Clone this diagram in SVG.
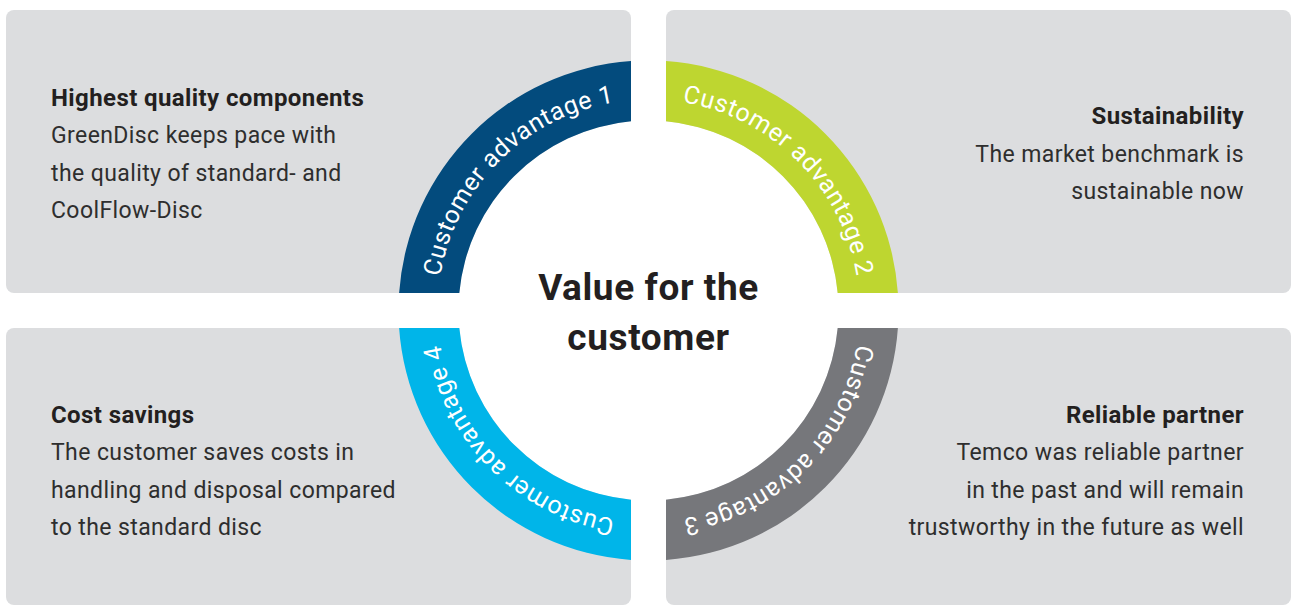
<svg xmlns="http://www.w3.org/2000/svg" width="1292" height="606" viewBox="0 0 1292 606">
<style>
.panel{fill:#dcdddf}
.h{font-family:Roboto,"Open Sans",sans-serif;font-weight:bold;font-size:24px;letter-spacing:0.4px;fill:#231f20}
.b{font-family:Roboto,"Open Sans",sans-serif;font-size:23px;letter-spacing:0.4px;fill:#2e2e2e}
.r{text-anchor:end}
.arc{font-family:Roboto,"Open Sans",sans-serif;font-size:25px;letter-spacing:0.6px;fill:#ffffff;text-anchor:middle}
.center{font-family:Roboto,"Open Sans",sans-serif;font-weight:bold;font-size:37px;letter-spacing:0.6px;fill:#231f20;text-anchor:middle}
</style>
<defs>
<path id="p1" d="M437.5,310.5 A211,211 0 0 1 648.5,99.5"/>
<path id="p2" d="M648.5,99.5 A211,211 0 0 1 859.5,310.5"/>
<path id="p3" d="M859.5,310.5 A211,211 0 0 1 648.5,521.5"/>
<path id="p4" d="M648.5,521.5 A211,211 0 0 1 437.5,310.5"/>
</defs>
<rect width="1292" height="606" fill="#ffffff"/>
<g id="panel-tl"><rect class="panel" x="6" y="10" width="625" height="283" rx="8"/>
<text class="h" x="51" y="106">Highest quality components</text>
<text class="b" x="51" y="143">GreenDisc keeps pace with</text>
<text class="b" x="51" y="181">the quality of standard- and</text>
<text class="b" x="51" y="218">CoolFlow-Disc</text></g>
<g id="panel-tr"><rect class="panel" x="666" y="10" width="625" height="283" rx="8"/>
<text class="h r" x="1244" y="124">Sustainability</text>
<text class="b r" x="1244" y="162">The market benchmark is</text>
<text class="b r" x="1244" y="199">sustainable now</text></g>
<g id="panel-bl"><rect class="panel" x="6" y="328" width="625" height="277" rx="8"/>
<text class="h" x="51" y="423">Cost savings</text>
<text class="b" x="51" y="460">The customer saves costs in</text>
<text class="b" x="51" y="498">handling and disposal compared</text>
<text class="b" x="51" y="535">to the standard disc</text></g>
<g id="panel-br"><rect class="panel" x="666" y="328" width="625" height="277" rx="8"/>
<text class="h r" x="1244" y="423">Reliable partner</text>
<text class="b r" x="1244" y="460">Temco was reliable partner</text>
<text class="b r" x="1244" y="498">in the past and will remain</text>
<text class="b r" x="1244" y="535">trustworthy in the future as well</text></g>
<g id="center"><circle cx="648.5" cy="310.5" r="190" fill="#ffffff"/>
<text class="center" x="648.5" y="300">Value for the</text>
<text class="center" x="648.5" y="350">customer</text></g>
<g id="adv1"><path fill="#034b7d" d="M399.11,293 A250,250 0 0 1 631,61.11 L631,121.31 A190,190 0 0 0 459.31,293 Z"/>
<text class="arc"><textPath href="#p1" startOffset="50%">Customer advantage 1</textPath></text></g>
<g id="adv2"><path fill="#bed630" d="M666,61.11 A250,250 0 0 1 897.89,293 L837.69,293 A190,190 0 0 0 666,121.31 Z"/>
<text class="arc"><textPath href="#p2" startOffset="50%">Customer advantage 2</textPath></text></g>
<g id="adv3"><path fill="#76777b" d="M897.89,328 A250,250 0 0 1 666,559.89 L666,499.69 A190,190 0 0 0 837.69,328 Z"/>
<text class="arc"><textPath href="#p3" startOffset="50%">Customer advantage 3</textPath></text></g>
<g id="adv4"><path fill="#00b5e9" d="M631,559.89 A250,250 0 0 1 399.11,328 L459.31,328 A190,190 0 0 0 631,499.69 Z"/>
<text class="arc"><textPath href="#p4" startOffset="50%">Customer advantage 4</textPath></text></g>
<g id="connectors"></g>
</svg>
